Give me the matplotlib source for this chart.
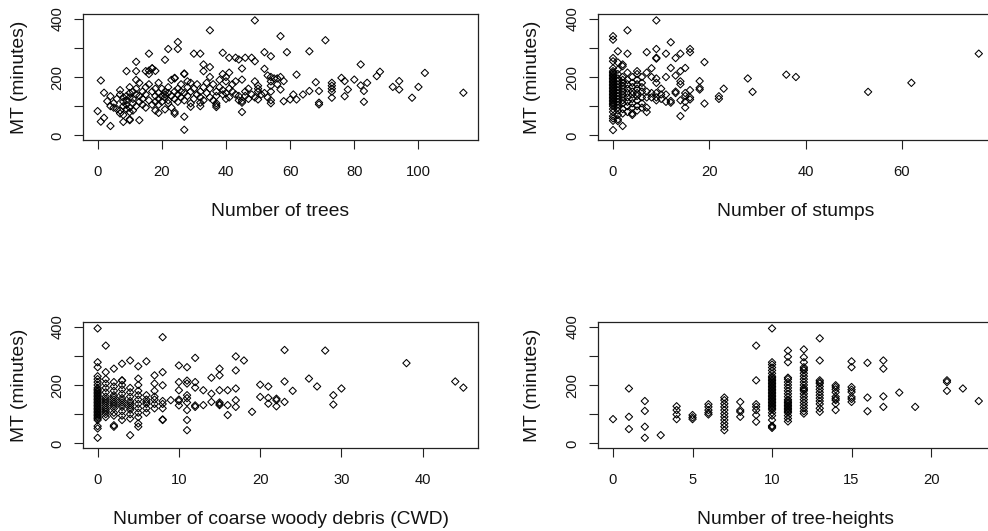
import matplotlib
matplotlib.use("Agg")
import matplotlib.pyplot as plt

plt.rcParams['font.family'] = ['Liberation Sans', 'DejaVu Sans']

# ---- Panel 1: Number of trees vs MT (minutes) ----
trees_points = [
    (0, 83), (1, 188), (1, 47), (2, 146), (2, 60), (4, 32), (3, 117), (4, 134), (4, 100),
    (9, 220), (12, 252), (12, 220), (16, 280), (15, 220), (16, 222), (17, 229), (18, 221),
    (21, 259), (22, 296), (25, 320), (25, 296), (24, 197), (27, 64), (27, 19), (27, 212),
    (30, 280), (32, 280), (33, 243), (35, 360), (35, 234), (39, 283), (41, 266), (43, 266),
    (44, 260), (46, 266), (48, 266), (49, 394), (49, 254), (52, 285), (54, 271), (57, 340),
    (59, 285), (66, 288), (71, 326), (82, 243), (88, 218), (87, 203), (84, 180), (82, 171),
    (83, 152), (83, 115), (80, 191), (77, 186), (76, 197), (78, 157), (77, 134), (73, 180),
    (73, 170), (73, 160), (73, 150), (73, 129), (69, 112), (69, 106), (69, 152), (68, 182),
    (66, 152), (64, 140), (62, 208), (62, 123), (60, 123), (61, 140), (58, 117), (58, 186),
    (57, 157), (56, 195), (54, 110), (54, 120), (54, 150), (54, 170), (54, 185), (54, 200),
    (53, 205), (52, 228), (50, 123), (50, 160), (50, 170), (47, 160), (45, 191), (45, 229),
    (45, 80), (45, 118), (45, 112), (37, 103), (37, 97), (37, 110), (32, 100), (32, 112),
    (29, 98), (24, 80), (24, 74), (21, 89), (19, 77), (13, 52), (10, 55), (8, 46), (10, 52),
    (92, 166), (94, 186), (94, 157), (98, 129), (100, 166), (102, 214), (114, 146),
    (5, 95), (5, 110), (6, 90), (6, 125), (7, 85), (7, 140), (7, 155), (7, 75), (8, 130),
    (8, 100), (8, 115), (8, 70), (9, 135), (9, 90), (9, 105), (9, 120), (10, 145), (10, 80),
    (10, 165), (10, 130), (10, 95), (11, 150), (11, 110), (11, 85), (11, 125), (12, 160),
    (12, 140), (12, 100), (12, 190), (13, 115), (13, 135), (13, 180), (14, 105), (14, 150),
    (14, 125), (15, 165), (15, 140), (15, 95), (16, 210), (16, 120), (16, 175), (17, 150),
    (17, 105), (17, 230), (18, 135), (18, 115), (18, 160), (18, 85), (19, 145), (19, 125),
    (19, 180), (19, 105), (20, 160), (20, 135), (20, 115), (21, 150), (21, 140), (21, 130),
    (22, 165), (22, 120), (22, 110), (22, 145), (23, 190), (23, 135), (23, 95), (24, 150),
    (24, 125), (24, 195), (25, 140), (25, 160), (25, 115), (26, 130), (26, 150), (26, 175),
    (27, 145), (27, 120), (27, 210), (28, 165), (28, 185), (28, 135), (29, 150), (29, 110),
    (29, 180), (30, 125), (30, 160), (31, 140), (31, 175), (32, 150), (32, 130), (33, 220),
    (33, 165), (33, 120), (34, 145), (34, 180), (35, 160), (35, 130), (35, 200), (36, 120),
    (36, 175), (37, 150), (37, 135), (38, 165), (38, 190), (39, 140), (39, 210), (39, 155),
    (40, 185), (40, 145), (40, 125), (40, 200), (41, 215), (41, 160), (41, 130), (42, 175),
    (42, 150), (43, 140), (43, 185), (44, 135), (44, 120), (46, 150), (46, 135), (47, 125),
    (48, 140), (49, 130), (49, 185), (50, 150), (51, 140), (52, 145), (53, 130), (55, 195),
    (56, 175), (57, 200),
]

# ---- Panel 2: Number of stumps -> MT values observed at that count ----
stumps_columns = {
    0: [18, 50, 58, 66, 80, 90, 100, 105, 110, 115, 120, 125, 130, 135, 140, 145, 150, 155,
        160, 165, 170, 175, 180, 185, 190, 195, 200, 205, 210, 215, 220, 230, 254, 265, 328, 340],
    1: [49, 55, 70, 85, 95, 105, 115, 125, 135, 145, 155, 165, 175, 185, 195, 210, 225, 250, 288],
    2: [32, 75, 90, 110, 120, 130, 140, 150, 160, 170, 180, 190, 200, 237, 243],
    3: [80, 100, 115, 130, 145, 160, 175, 190, 215, 280, 360],
    4: [70, 75, 95, 110, 125, 140, 150, 165, 180, 200],
    5: [85, 100, 120, 135, 145, 160, 175, 190, 210, 220],
    6: [95, 110, 130, 150, 165, 180, 200],
    7: [80, 95, 130, 150, 215, 285],
    8: [130, 145, 200, 230],
    9: [120, 130, 145, 180, 195, 263, 266, 296, 394],
    10: [125, 140, 160],
    11: [115, 140, 200, 280],
    12: [112, 118, 231, 319],
    13: [145, 150, 205, 265],
    14: [66, 120, 175, 185, 220, 280],
    15: [95, 115, 135, 145, 231],
    16: [123, 130, 155, 285, 296],
    18: [157, 163, 186],
    19: [109, 251],
    22: [125, 134],
    23: [160],
    28: [195],
    29: [149],
    36: [208],
    38: [200],
    53: [149],
    62: [180],
    76: [280],
}

# ---- Panel 3: Number of coarse woody debris (CWD) vs MT ----
cwd_points = [
    (0, 394), (1, 335), (0, 278), (0, 261), (0, 19), (0, 51), (0, 59), (1, 244), (2, 256),
    (2, 57), (2, 62), (3, 273), (3, 216), (4, 284), (4, 28), (5, 264), (5, 222), (5, 68),
    (5, 57), (6, 281), (7, 233), (8, 244), (8, 364), (8, 199), (8, 80), (9, 148), (10, 267),
    (10, 210), (10, 182), (11, 261), (11, 80), (11, 45), (11, 114), (12, 293), (12, 210),
    (12, 191), (13, 182), (13, 131), (14, 225), (14, 170), (14, 142), (15, 256), (15, 233),
    (15, 182), (15, 131), (16, 182), (16, 97), (16, 131), (17, 298), (17, 250), (17, 188),
    (17, 148), (17, 125), (18, 284), (19, 108), (20, 201), (20, 159), (21, 195), (21, 156),
    (21, 136), (22, 153), (22, 148), (22, 127), (23, 320), (23, 212), (23, 142), (24, 180),
    (26, 222), (27, 195), (28, 318), (29, 165), (29, 133), (30, 188), (38, 275), (44, 212),
    (45, 191),
    (0, 80), (0, 90), (0, 100), (0, 110), (0, 120), (0, 130), (0, 140), (0, 150), (0, 160),
    (0, 170), (0, 180), (0, 190), (0, 200), (0, 210), (0, 220), (0, 230),
    (0, 85), (0, 95), (0, 105), (0, 115), (0, 125), (0, 135), (0, 145), (0, 155), (0, 165),
    (0, 175), (0, 185),
    (1, 90), (1, 100), (1, 115), (1, 130), (1, 145), (1, 160), (1, 175), (1, 190), (1, 205),
    (1, 220), (1, 108), (1, 122), (1, 138), (1, 152),
    (2, 95), (2, 105), (2, 120), (2, 135), (2, 150), (2, 165), (2, 180), (2, 195), (2, 210),
    (2, 128), (2, 142), (2, 158),
    (3, 80), (3, 95), (3, 110), (3, 125), (3, 140), (3, 155), (3, 170), (3, 185), (3, 200),
    (3, 215), (3, 132), (3, 148),
    (4, 85), (4, 100), (4, 115), (4, 130), (4, 145), (4, 160), (4, 175), (4, 190),
    (4, 122), (4, 138),
    (5, 90), (5, 105), (5, 120), (5, 135), (5, 150), (5, 165), (5, 180), (5, 200),
    (6, 105), (6, 120), (6, 135), (6, 150), (6, 165), (6, 142),
    (7, 120), (7, 135), (7, 150), (7, 160), (7, 180), (7, 205),
    (8, 120), (8, 135), (8, 145), (8, 82),
    (10, 130), (10, 145), (10, 150),
    (11, 140), (11, 155), (11, 165), (11, 205), (11, 215),
    (12, 125), (12, 130), (15, 135), (15, 140),
]

# ---- Panel 4: Number of tree-heights -> MT values observed at that count ----
heights_columns = {
    0: [83],
    1: [49, 91, 188],
    2: [19, 57, 111, 145],
    3: [28],
    4: [83, 99, 114, 127],
    5: [83, 89, 97],
    6: [99, 105, 114, 125, 134],
    7: [45, 57, 68, 80, 91, 102, 114, 125, 136, 148, 157],
    8: [91, 108, 114, 142],
    9: [74, 97, 114, 125, 134, 216, 335],
    10: [53, 57, 60, 80, 95, 105, 115, 120, 125, 130, 135, 140, 145, 150, 155, 160, 165, 170,
         175, 180, 185, 190, 195, 200, 205, 210, 215, 220, 225, 230, 240, 250, 260, 270, 278, 394],
    11: [75, 85, 95, 105, 110, 115, 120, 125, 130, 135, 140, 145, 150, 160, 170, 180, 190, 200,
         210, 220, 225, 278, 297, 318],
    12: [102, 110, 120, 130, 140, 150, 160, 170, 180, 185, 190, 200, 210, 220, 230, 240, 250,
         255, 261, 278, 295, 322],
    13: [108, 120, 135, 145, 155, 165, 175, 185, 195, 205, 210, 216, 284, 360],
    14: [114, 136, 148, 153, 160, 175, 185, 193, 199],
    15: [142, 152, 159, 176, 184, 193, 261, 281],
    16: [110, 157, 276],
    17: [125, 161, 256, 284],
    18: [174],
    19: [125],
    21: [180, 210, 216],
    22: [188],
    23: [145],
}

x_labels = ["Number of trees", "Number of stumps",
            "Number of coarse woody debris (CWD)", "Number of tree-heights"]
x_ticks = [[0, 20, 40, 60, 80, 100], [0, 20, 40, 60], [0, 10, 20, 30, 40], [0, 5, 10, 15, 20]]
y_ticks = [0, 100, 200, 300, 400]
y_tick_labels = ["0", "", "200", "", "400"]
y_label = "MT (minutes)"


def columns_to_xy(cols):
    xs, ys = [], []
    for k, vals in cols.items():
        for v in vals:
            xs.append(k)
            ys.append(v)
    return xs, ys


def points_to_xy(pts):
    return [p[0] for p in pts], [p[1] for p in pts]


datasets = [
    points_to_xy(trees_points),
    columns_to_xy(stumps_columns),
    points_to_xy(cwd_points),
    columns_to_xy(heights_columns),
]

W, H = 988, 531
fig = plt.figure(figsize=(W / 100, H / 100), dpi=100)
fig.patch.set_facecolor('white')

ax_w = 395
ax_h = 126
lefts = [83, 598.4]
tops = [14, 322]
ylab_offsets = [59, 61]   # px from box left edge to y-label baseline
TEXT = '#141414'

for i, (xs, ys) in enumerate(datasets):
    r, c = divmod(i, 2)
    l = lefts[c]
    t = tops[r]
    ax = fig.add_axes([l / W, 1 - (t + ax_h) / H, ax_w / W, ax_h / H])
    ax.scatter(xs, ys, marker='D', s=14, facecolors='none', edgecolors='black',
               linewidths=0.75, zorder=3)
    xmin, xmax = min(xs), max(xs)
    pad = 0.04 * (xmax - xmin)
    ax.set_xlim(xmin - pad, xmax + pad)
    ax.set_ylim(-16, 416)
    ax.set_xticks(x_ticks[i])
    ax.set_xticklabels([str(v) for v in x_ticks[i]])
    ax.set_yticks(y_ticks)
    ax.set_yticklabels(y_tick_labels, rotation=90, va='center')
    ax.tick_params(axis='both', direction='out', length=6.5, width=0.8, color='#222222',
                   labelsize=10.6, labelcolor=TEXT)
    ax.tick_params(axis='x', pad=11.3)
    ax.tick_params(axis='y', pad=7.0)
    for sp in ax.spines.values():
        sp.set_linewidth(0.9)
        sp.set_color('#222222')
    ax.text(0.5, -75.6 / ax_h, x_labels[i], transform=ax.transAxes, ha='center',
            va='baseline', fontsize=13.9, color=TEXT)
    ax.text(-ylab_offsets[c] / ax_w, 0.5, y_label, transform=ax.transAxes, ha='center',
            va='baseline', rotation=90, rotation_mode='anchor', fontsize=13.9, color=TEXT)

fig.savefig("out.png", dpi=100, facecolor='white')
